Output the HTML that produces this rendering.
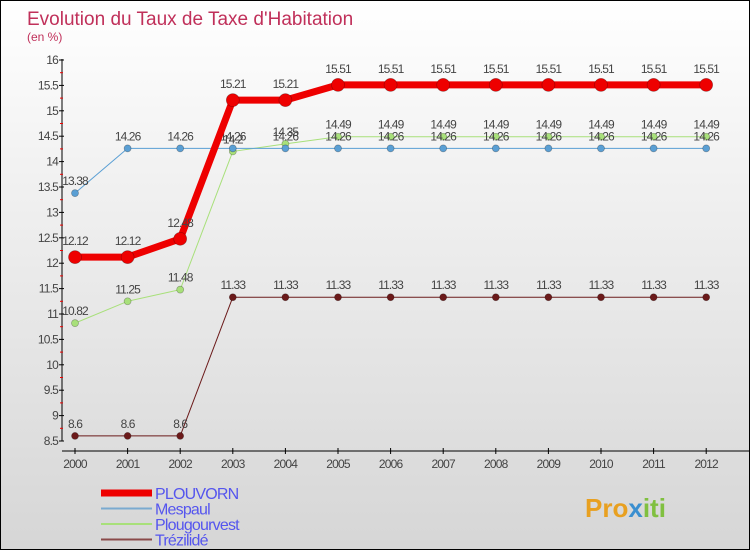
<!DOCTYPE html>
<html><head><meta charset="utf-8"><style>
body{margin:0;}
#c{position:relative;width:748px;height:548px;border:1px solid #000;background:linear-gradient(#ffffff,#f2f2f2 30%,#d6d6d6);font-family:"Liberation Sans",sans-serif;overflow:hidden}
</style></head><body>
<div id="c">
<svg id="s" width="748" height="548" xmlns="http://www.w3.org/2000/svg" style="position:absolute;left:0;top:0"></svg>
</div>
<script>
const years=["2000","2001","2002","2003","2004","2005","2006","2007","2008","2009","2010","2011","2012"];
const plouvorn=[12.12,12.12,12.48,15.21,15.21,15.51,15.51,15.51,15.51,15.51,15.51,15.51,15.51];
const mespaul=[13.38,14.26,14.26,14.26,14.26,14.26,14.26,14.26,14.26,14.26,14.26,14.26,14.26];
const plougourvest=[10.82,11.25,11.48,14.20,14.35,14.49,14.49,14.49,14.49,14.49,14.49,14.49,14.49];
const trezilide=[8.6,8.6,8.6,11.33,11.33,11.33,11.33,11.33,11.33,11.33,11.33,11.33,11.33];
const yTicks=[8.5,9,9.5,10,10.5,11,11.5,12,12.5,13,13.5,14,14.5,15,15.5,16];
const s=document.getElementById('s');
const NS="http://www.w3.org/2000/svg";
const X=i=>74+i*52.6;
const Y=v=>440-(v-8.5)*50.8;
function mk(t,a,p){const e=document.createElementNS(NS,t);for(const k in a)e.setAttribute(k,a[k]);(p||s).appendChild(e);return e;}
function txt(x,y,str,a,p){const e=mk('text',Object.assign({x:x,y:y},a),p);e.textContent=str;return e;}
let t=txt(26,24,"Evolution du Taux de Taxe d'Habitation",{fill:"#c0305a","font-size":19});

t=txt(26,40,"(en %)",{fill:"#c0305a","font-size":12});

let ax=mk('line',{x1:61,y1:58,x2:61,y2:440,stroke:"#000","stroke-width":1});

yTicks.forEach((v,i)=>{mk('line',{x1:58,y1:Y(v),x2:63,y2:Y(v),stroke:"#000"});
 if(i<yTicks.length-1) mk('line',{x1:59,y1:Y(v+0.25),x2:62,y2:Y(v+0.25),stroke:"#e00"});
 const l=txt(57,Y(v)+4,String(v),{fill:"#444","font-size":12,"text-anchor":"end","letter-spacing":"-0.8"});
 });
ax=mk('line',{x1:61,y1:450,x2:748,y2:450,stroke:"#000"});

years.forEach((y,i)=>{mk('line',{x1:X(i),y1:447,x2:X(i),y2:453,stroke:"#000"});
 const l=txt(X(i),467,y,{fill:"#444","font-size":12,"text-anchor":"middle","letter-spacing":"-0.8"});
 });
function series(data,color,w,r,name,labelDy){
 const g=mk('g',{});
 mk('polyline',{points:data.map((v,i)=>X(i)+','+Y(v)).join(' '),fill:"none",stroke:color,"stroke-width":w,"stroke-linejoin":"round"},g);
 data.forEach((v,i)=>{const c=mk('circle',{cx:X(i),cy:Y(v),r:r,fill:color,stroke:"rgba(0,0,0,0.3)","stroke-width":0.7},g);
  
  const l=txt(X(i),Y(v)+labelDy,String(v),{fill:"#444","font-size":12,"text-anchor":"middle","letter-spacing":"-0.9"},g);
  });
}
series(trezilide,"#6b1a1a",1,3.5,"trezilide",-8);
series(plougourvest,"#a8e07a",1,3.5,"plougourvest",-8);
series(mespaul,"#5a9fd4",1,3.5,"mespaul",-8);
series(plouvorn,"#ee0000",7,6.5,"plouvorn",-12);
const leg=[["PLOUVORN","#ee0000",7],["Mespaul","#7aaad0",2],["Plougourvest","#a8e07a",2],["Trézilidé","#8a4a4a",2]];
leg.forEach((d,i)=>{const y=492+i*15.5;
 const g=mk('g',{});
 mk('line',{x1:100,y1:y,x2:151,y2:y,stroke:d[1],"stroke-width":d[2]},g);
 txt(154,y+6,d[0],{fill:"#5555ee","font-size":16,"letter-spacing":"-0.8"},g);});
t=mk('text',{x:584,y:516,"font-size":26,"font-weight":"bold"});

[["Pro","#e8a020"],["x","#3a8fd0"],["iti","#80c040"]].forEach(p=>{const ts=mk('tspan',{fill:p[1]},t);ts.textContent=p[0];});
</script>
</body></html>
